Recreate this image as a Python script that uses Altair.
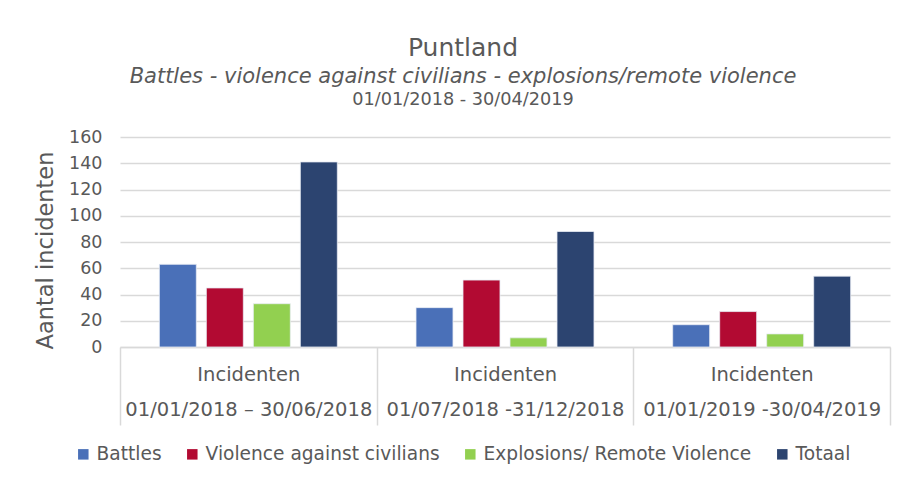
import altair as alt
import pandas as pd

periods = [
    "Incidenten\n01/01/2018 \u2013 30/06/2018",
    "Incidenten\n01/07/2018 -31/12/2018",
    "Incidenten\n01/01/2019 -30/04/2019",
]
series = ["Battles", "Violence against civilians", "Explosions/ Remote Violence", "Totaal"]
battles = [63, 30, 17]
violence = [45, 51, 27]
explosions = [33, 7, 10]
totaal = [141, 88, 54]
colors = ["#4A70B8", "#B20A32", "#92D050", "#2C4470"]
date_line = ["01/01/2018 - 30/04/2019"]

rows = []
for s, vals in zip(series, [battles, violence, explosions, totaal]):
    for p, v in zip(periods, vals):
        rows.append({"period": p, "series": s, "value": v})
df = pd.DataFrame(rows)

FONT = "DejaVu Sans"
GREY = "#595959"
LINE = "#D9D9D9"

bars = alt.Chart(df).mark_bar(stroke="#E8ECF4", strokeWidth=0.8).encode(
    x=alt.X(
        "period:N",
        sort=periods,
        title=None,
        scale=alt.Scale(paddingInner=0, paddingOuter=0),
        axis=alt.Axis(
            labelExpr="split(datum.label, '\\n')",
            labelAngle=0,
            labelFontSize=19.5,
            labelLineHeight=35,
            labelColor=GREY,
            labelFont=FONT,
            labelPadding=-60,
            labelBaseline="top",
            labelLimit=400,
            domainColor=LINE,
            domainWidth=1.5,
            tickBand="extent",
            tickSize=78,
            tickColor=LINE,
            tickWidth=1.5,
        ),
    ),
    xOffset=alt.XOffset(
        "series:N",
        sort=series,
        scale=alt.Scale(paddingInner=0.213, paddingOuter=0.837),
    ),
    y=alt.Y(
        "value:Q",
        title="Aantal incidenten",
        scale=alt.Scale(domain=[0, 160]),
        axis=alt.Axis(
            values=list(range(0, 161, 20)),
            labelFontSize=17.5,
            labelColor=GREY,
            labelFont=FONT,
            labelPadding=18,
            domain=False,
            ticks=False,
            gridColor=LINE,
            gridWidth=1.5,
            titleFontSize=22.5,
            titleFont=FONT,
            titleColor=GREY,
            titleFontWeight="normal",
            titleX=-75,
            titleY=113,
            titleAlign="center",
            titleBaseline="middle",
            titleAngle=-90,
        ),
    ),
    color=alt.Color(
        "series:N",
        sort=series,
        scale=alt.Scale(domain=series, range=colors),
        legend=alt.Legend(
            title=None,
            orient="none",
            direction="horizontal",
            legendX=-46,
            legendY=308,
            symbolType="square",
            symbolSize=110,
            symbolStrokeWidth=0,
            labelFontSize=18.6,
            labelFont=FONT,
            labelColor=GREY,
            labelOffset=4,
            labelLimit=400,
            columnPadding=21,
        ),
    ),
)

date_text = alt.Chart(pd.DataFrame({"t": date_line})).mark_text(
    font=FONT, fontSize=17.7, color=GREY, align="center", baseline="middle"
).encode(text="t:N", x=alt.value(343), y=alt.value(-37))

chart = alt.layer(bars, date_text).properties(
    width=770,
    height=210,
    autosize=alt.AutoSizeParams(type="none"),
    padding={"left": 112, "top": 129, "right": 6, "bottom": 120},
    title=alt.TitleParams(
        text="Puntland",
        subtitle="Battles - violence against civilians - explosions/remote violence",
        anchor="middle",
        dx=-42,
        offset=4,
        font=FONT,
        fontSize=25,
        fontWeight="normal",
        color=GREY,
        subtitleFont=FONT,
        subtitleFontSize=21,
        subtitleFontStyle="italic",
        subtitleColor=GREY,
        subtitlePadding=5,
    ),
).configure_view(stroke=None)

chart.save("out.html", embed_options={"renderer": "svg", "actions": False})
